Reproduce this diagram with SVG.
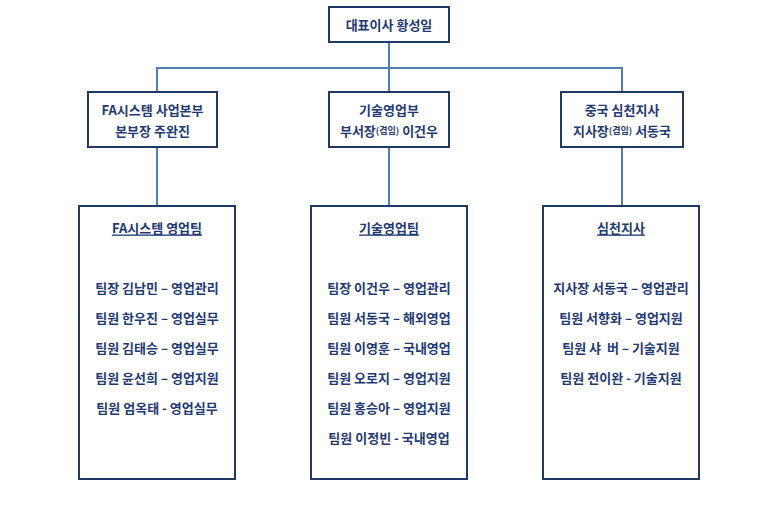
<svg xmlns="http://www.w3.org/2000/svg" width="772" height="506" viewBox="0 0 772 506">
<style>
.b{fill:#fff;stroke:#1f3864;stroke-width:2}
.c{fill:none;stroke:#4f7fb4;stroke-width:2}
text{font-family:"Noto Sans CJK KR","Liberation Sans",sans-serif;font-size:13px;font-weight:bold;fill:#1f3a73;text-anchor:middle;dominant-baseline:central}
.s{font-size:9px}
.u{text-decoration:underline}
</style>
<rect width="772" height="506" fill="#fff"/>
<g id="connectors">
<path class="c" d="M389 42V68M157 92V68H622V92M389 68V92M157 147V206M389 147V206M622 147V206"/>
</g>
<g id="ceo"><rect class="b" x="329" y="7" width="120" height="35"/><text x="389" y="24.5">대표이사 황성일</text></g>
<g id="fa"><rect class="b" x="88" y="92" width="129" height="55"/><text x="152.5" y="109">FA시스템 사업본부</text><text x="152.5" y="130">본부장 주완진</text></g>
<g id="tech"><rect class="b" x="329" y="92" width="120" height="55"/><text x="389" y="109">기술영업부</text><text x="389" y="130">부서장<tspan class="s">(겸임)</tspan> 이건우</text></g>
<g id="china"><rect class="b" x="561" y="92" width="122" height="55"/><text x="622" y="109">중국 심천지사</text><text x="622" y="130">지사장<tspan class="s">(겸임)</tspan> 서동국</text></g>
<g id="fateam"><rect class="b" x="79" y="206" width="156" height="273"/>
<text class="u" x="157" y="227">FA시스템 영업팀</text>
<text x="157" y="287">팀장 김남민 – 영업관리</text>
<text x="157" y="317">팀원 한우진 – 영업실무</text>
<text x="157" y="347">팀원 김태승 – 영업실무</text>
<text x="157" y="377">팀원 윤선희 – 영업지원</text>
<text x="157" y="407">팀원 엄옥태 - 영업실무</text></g>
<g id="techteam"><rect class="b" x="311" y="206" width="156" height="273"/>
<text class="u" x="389" y="227">기술영업팀</text>
<text x="389" y="287">팀장 이건우 – 영업관리</text>
<text x="389" y="317">팀원 서동국 – 해외영업</text>
<text x="389" y="347">팀원 이영훈 – 국내영업</text>
<text x="389" y="377">팀원 오로지 – 영업지원</text>
<text x="389" y="407">팀원 홍승아 – 영업지원</text>
<text x="389" y="437">팀원 이정빈 - 국내영업</text></g>
<g id="szteam"><rect class="b" x="543" y="206" width="156" height="273"/>
<text class="u" x="621" y="227">심천지사</text>
<text x="621" y="287">지사장 서동국 – 영업관리</text>
<text x="621" y="317">팀원 서향화 – 영업지원</text>
<text x="621" y="347" xml:space="preserve">팀원 샤  버 – 기술지원</text>
<text x="621" y="377">팀원 전이완 - 기술지원</text></g>
</svg>
